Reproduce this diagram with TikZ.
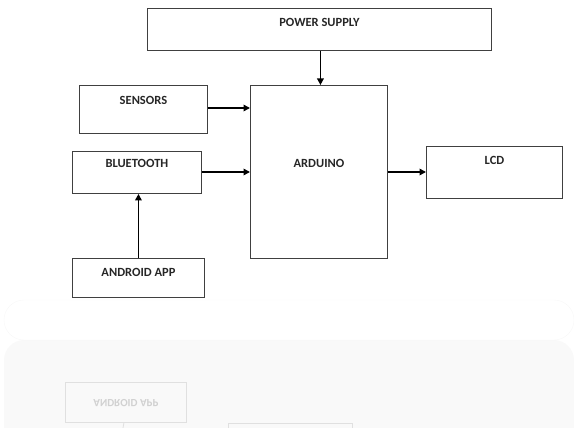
\documentclass[tikz,border=0pt]{standalone}
\usepackage{fontspec}
\setmainfont{Carlito}
\usetikzlibrary{arrows.meta}
\begin{document}
\begin{tikzpicture}[x=1pt,y=-1pt,
  blockbox/.style={draw=black!75,line width=0.9pt,anchor=north west,inner xsep=0pt,
    text height=9pt,font=\fontsize{12.5}{14}\selectfont\bfseries,text=black!85},
  flow/.style={line width=1.8pt,-{Triangle[length=6.5pt,width=6.5pt]}},
  ghost/.style={draw=black!12,line width=0.8pt}]
\useasboundingbox (0,0) rectangle (574,428);
% faint reflection backdrop
\begin{scope}
\clip (0,0) rectangle (574,428);
\fill[black!2.5,rounded corners=20pt] (4,340) rectangle (574,460);
\draw[black!3,rounded corners=20pt] (4,300) rectangle (574,340);
\node[ghost,anchor=north west,minimum width=121pt,minimum height=40pt,inner sep=0pt,
  text=black!18,font=\fontsize{11}{12}\selectfont\bfseries,yscale=-1] (ghostapp) at (65,423) {ANDROID APP};
\draw[ghost] (ghostapp.north) ++(-2,0) -- (123,428);
\draw[ghost] (228,440) |- (352,423) -- (352,440);
\end{scope}
% blocks
\node[blockbox,minimum width=344pt,inner ysep=9pt,text depth=15pt] (power) at (147,8) {POWER SUPPLY};
\node[blockbox,minimum width=137pt,inner ysep=73pt,text depth=18pt] (arduino) at (250,85) {ARDUINO};
\node[blockbox,minimum width=128pt,inner ysep=10pt,text depth=19pt] (sensors) at (79,85) {SENSORS};
\node[blockbox,minimum width=129pt,inner ysep=7pt,text depth=19pt] (bt) at (72,151) {BLUETOOTH};
\node[blockbox,minimum width=132pt,inner ysep=9pt,text depth=12pt] (app) at (72,258) {ANDROID APP};
\node[blockbox,minimum width=136pt,inner ysep=9pt,text depth=25pt] (lcd) at (426,146) {LCD};
% connectors
\draw[flow] (power.south) ++(1,0) coordinate (ps) -- (ps |- arduino.north);
\draw[flow] (sensors.east |- 0,108) coordinate (se) -- (se -| arduino.west);
\draw[flow] (bt.east |- 0,172) coordinate (be) -- (be -| arduino.west);
\draw[flow] (arduino.east |- 0,172) coordinate (ae) -- (ae -| lcd.west);
\draw[flow] (app.north) coordinate (an) -- (an |- bt.south);
\end{tikzpicture}
\end{document}
